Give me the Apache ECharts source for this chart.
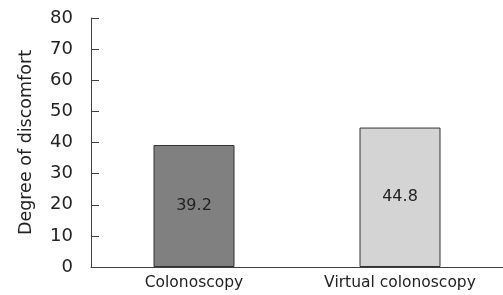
<!DOCTYPE html>
<html>
<head>
<meta charset="utf-8">
<script src="https://cdn.jsdelivr.net/npm/echarts@6/dist/echarts.min.js"></script>
<style>
  html, body { margin: 0; padding: 0; background: #fff; }
  #chart { width: 503px; height: 295px; }
</style>
</head>
<body>
<div id="chart"></div>
<script>
  // data
  var categories = ["Colonoscopy", "Virtual colonoscopy"];
  var values = [39.2, 44.8];
  var barColors = ["#808080", "#d4d4d4"];
  var yTicks = [0, 10, 20, 30, 40, 50, 60, 70, 80];

  var chart = echarts.init(document.getElementById("chart"));
  var font = "DejaVu Sans";

  chart.setOption({
    animation: false,
    grid: { left: 91, right: -6, top: 18, bottom: 28 },
    xAxis: {
      type: "category",
      data: categories,
      axisLine: { lineStyle: { color: "#404040", width: 1 } },
      axisTick: { inside: true, length: 7, lineStyle: { color: "#404040" } },
      axisLabel: { color: "#222", fontFamily: font, fontSize: 15.5, margin: 8 }
    },
    yAxis: {
      type: "value",
      min: yTicks[0],
      max: yTicks[yTicks.length - 1],
      interval: 10,
      name: "Degree of discomfort",
      nameLocation: "middle",
      nameGap: 56,
      nameTextStyle: { color: "#222", fontFamily: font, fontSize: 17.5 },
      splitLine: { show: false },
      axisLine: { show: true, lineStyle: { color: "#404040", width: 1 } },
      axisTick: { show: true, inside: true, length: 8, lineStyle: { color: "#404040" } },
      axisLabel: { color: "#222", fontFamily: font, fontSize: 18, margin: 18 }
    },
    series: [{
      type: "bar",
      barWidth: 81,
      data: values.map(function (v, i) {
        return {
          value: v,
          itemStyle: { color: barColors[i], borderColor: "#333", borderWidth: 1 }
        };
      }),
      label: {
        show: true,
        position: "inside",
        color: "#222",
        fontFamily: font,
        fontSize: 16
      }
    }]
  });
</script>
</body>
</html>
